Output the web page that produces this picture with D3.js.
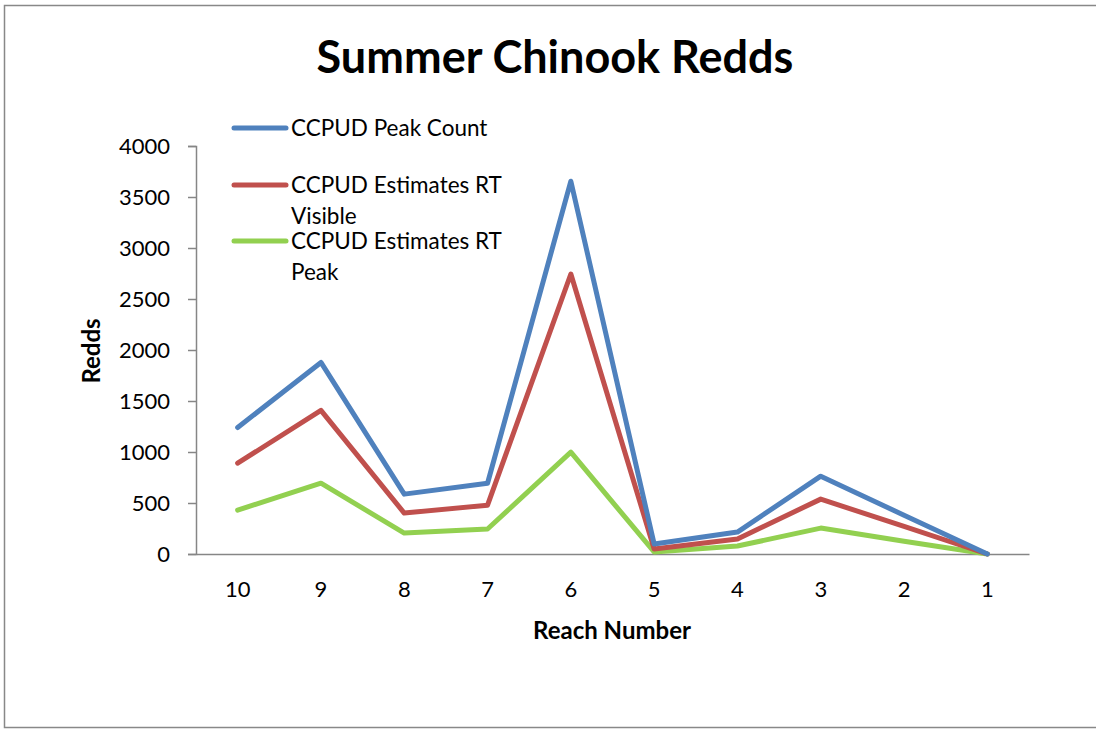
<!DOCTYPE html>
<html><head><meta charset="utf-8">
<script src="https://cdn.jsdelivr.net/npm/d3@7"></script>
<style>body{margin:0;background:#fff}svg{display:block}text{font-family:Lato,"Open Sans",sans-serif}</style>
</head><body>
<svg id="c" width="1096" height="730"></svg>
<script>
const categories = ["10","9","8","7","6","5","4","3","2","1"];
const peakCount = [1240, 1878, 587, 694, 3655, 98, 215, 763, 380, 0];
const estVisible = [890, 1408, 401, 479, 2745, 50, 147, 538, 270, 0];
const estPeak = [430, 694, 205, 245, 998, 20, 78, 254, 125, 0];
const yTicks = [0, 500, 1000, 1500, 2000, 2500, 3000, 3500, 4000];
const seriesNames = ["CCPUD Peak Count", "CCPUD Estimates RT Visible", "CCPUD Estimates RT Peak"];
const colors = ["#4F81BD", "#C0504D", "#92D050"];

const svg = d3.select("#c");
svg.append("rect").attr("x",4.5).attr("y",5.5).attr("width",1100).attr("height",722).attr("fill","#fff").attr("stroke","#888").attr("stroke-width",1.5);

const x = d3.scaleBand().domain(categories).range([196, 1029]);
const y = d3.scaleLinear().domain([0, 4000]).range([554, 146]);

// y axis
const ya = svg.append("g").attr("transform","translate(196,0)")
  .call(d3.axisLeft(y).tickValues(yTicks).tickSize(8).tickPadding(18).tickFormat(d3.format("d")));
ya.select(".domain").attr("stroke","#868686").attr("stroke-width",1.5).attr("d","M-8,146.5H0.5V554.5H-8");
ya.selectAll(".tick line").attr("stroke","#868686").attr("stroke-width",1.5);
ya.selectAll(".tick text").attr("font-size",22).attr("fill","#000").style("font-family","Lato,'Open Sans',sans-serif");

// x axis
const xa = svg.append("g").attr("transform","translate(0,554)")
  .call(d3.axisBottom(x).tickSize(0).tickPadding(27));
xa.select(".domain").attr("stroke","#868686").attr("stroke-width",1.5);
xa.selectAll(".tick text").attr("font-size",22).attr("fill","#000").style("font-family","Lato,'Open Sans',sans-serif");

const series = [peakCount, estVisible, estPeak];
const line = d3.line().x((d,i)=>x(categories[i])+x.bandwidth()/2).y(d=>y(d));
series.slice().reverse().forEach((s,ri)=>{
  const i = series.length-1-ri;
  svg.append("path").attr("d", line(s)).attr("fill","none").attr("stroke",colors[i])
    .attr("stroke-width",5).attr("stroke-linejoin","round").attr("stroke-linecap","round");
});

// title
svg.append("text").attr("x",555).attr("y",73).attr("text-anchor","middle")
  .attr("font-size",45).attr("font-weight","bold").text("Summer Chinook Redds");
// axis titles
svg.append("text").attr("x",612).attr("y",639).attr("text-anchor","middle")
  .attr("font-size",24).attr("font-weight","bold").text("Reach Number");
svg.append("text").attr("transform","translate(100,351) rotate(-90)").attr("text-anchor","middle")
  .attr("font-size",24).attr("font-weight","bold").text("Redds");

// legend
const leg = [
  {y:128, lines:["CCPUD Peak Count"]},
  {y:185, lines:["CCPUD Estimates RT","Visible"]},
  {y:241, lines:["CCPUD Estimates RT","Peak"]}
];
leg.forEach((l,i)=>{
  svg.append("line").attr("x1",234).attr("x2",286).attr("y1",l.y).attr("y2",l.y)
    .attr("stroke",colors[i]).attr("stroke-width",5).attr("stroke-linecap","round");
  l.lines.forEach((t,j)=>{
    svg.append("text").attr("x",291).attr("y",l.y+8+j*30.5).attr("font-size",22.5).text(t);
  });
});
</script>
</body></html>
